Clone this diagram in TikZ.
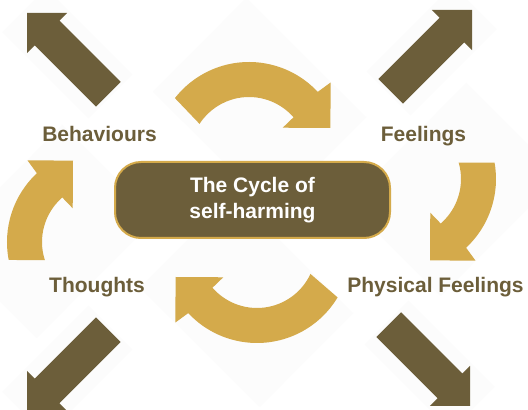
\documentclass[tikz,border=0pt]{standalone}
\usepackage{fontspec}
\setmainfont{Liberation Sans}

\definecolor{cycDark}{RGB}{108,94,58}
\definecolor{cycGold}{RGB}{212,170,75}
\definecolor{cycHaze}{RGB}{252,252,252}

% straight outward arrow: tip at (#1,#2), pointing in direction #3
\newcommand\outerarrowbg[3]{%
  \begin{scope}[shift={(#1,#2)},rotate=#3]
    \fill[cycHaze] (-118,-31) rectangle (4,31);
  \end{scope}}
\newcommand\outerarrow[3]{%
  \begin{scope}[shift={(#1,#2)},rotate=#3]
    \fill[cycDark] (0,0) -- (-28.3,28.3) -- (-28.3,17.5) -- (-115,17.5)
      -- (-115,-17.5) -- (-28.3,-17.5) -- (-28.3,-28.3) -- cycle;
  \end{scope}}

% curved cycle arrow around centre (#1,#2), turned by #3;
% #4 / #5: start angles of the outer / inner edge
\newcommand\cyclearrowbg[3]{%
  \begin{scope}[shift={(#1,#2)},rotate=#3]
    \fill[cycHaze] (117,39) -- (-3,158) -- (-96,64) -- (24,-55) -- cycle;
  \end{scope}}
\newcommand\cyclearrow[5]{%
  \begin{scope}[shift={(#1,#2)},rotate=#3]
    \fill[cycGold] (#4:94) arc[start angle=#4,end angle=43,radius=94]
      -- (42:110) -- (19:86) -- (40:44) -- (41:59)
      arc[start angle=41,end angle=#5,radius=59] -- cycle;
  \end{scope}}

\tikzset{
  lbl/.style={anchor=base, inner sep=0pt, text=cycDark,
    font=\bfseries\fontsize{21}{25.5}\selectfont},
  hub/.style={fill=cycDark, draw=cycGold, line width=2pt,
    rounded corners=26pt, minimum width=275pt, minimum height=76pt,
    inner sep=0pt, text=white, align=center,
    font=\bfseries\fontsize{21}{25.5}\selectfont}
}

\begin{document}
\begin{tikzpicture}[x=1pt,y=1pt]
  \clip (0,0) rectangle (528,410);
  \fill[white] (0,0) rectangle (528,410);

  % faint backing panels
  \outerarrowbg{27}{397}{135}
  \outerarrowbg{472}{400}{45}
  \outerarrowbg{27}{-1}{225}
  \outerarrowbg{470}{4}{-45}
  \cyclearrowbg{249}{254}{0}
  \cyclearrowbg{402}{231}{-90}
  \cyclearrowbg{257}{161}{180}
  \cyclearrowbg{101}{168}{90}

  % outward arrows
  \outerarrow{27}{397}{135}
  \outerarrow{472}{400}{45}
  \outerarrow{27}{-1}{225}
  \outerarrow{470}{4}{-45}

  % cycle arrows
  \cyclearrow{249}{254}{0}{142}{147}
  \cyclearrow{402}{231}{-90}{100}{106}
  \cyclearrow{257}{161}{180}{149}{155}
  \cyclearrow{101}{168}{90}{101}{108}

  % labels
  \node[lbl] (behaviours) at (99.5,268) {Behaviours};
  \node[lbl] (feelings) at (423.5,268) {Feelings};
  \node[lbl] (thoughts) at (97,117) {Thoughts};
  \node[lbl] (physical) at (435.5,117) {Physical Feelings};

  % centre
  \node[hub] (hub) at (252.5,210) {The Cycle of\\self-harming};
\end{tikzpicture}
\end{document}
